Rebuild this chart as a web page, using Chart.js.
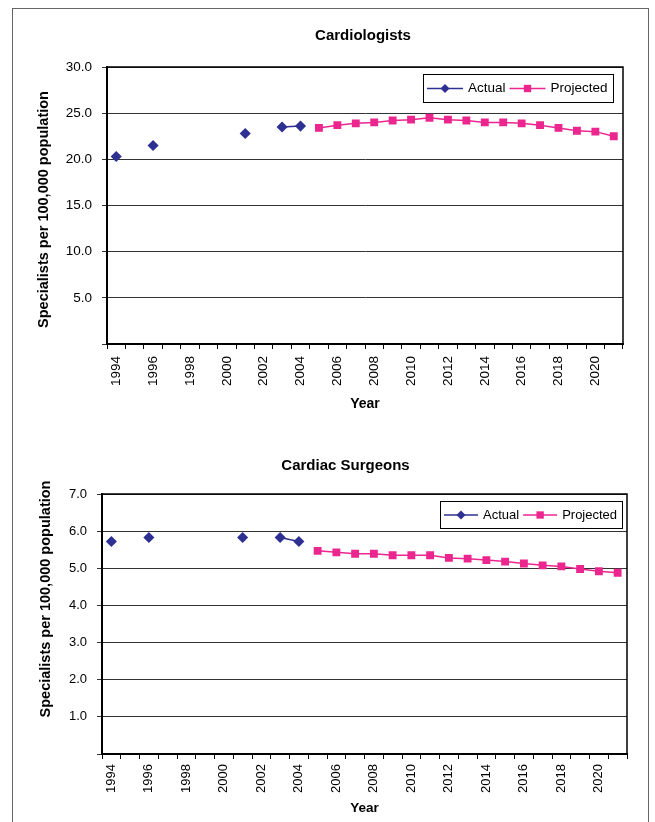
<!DOCTYPE html>
<html>
<head>
<meta charset="utf-8">
<title>Cardiologists and Cardiac Surgeons</title>
<script src="https://cdn.jsdelivr.net/npm/chart.js@4/dist/chart.umd.min.js"></script>
<style>
  body { margin: 0; background: #fff; }
  #frame { position: absolute; left: 12px; top: 8px; width: 637px; height: 900px; box-sizing: border-box; border: 1px solid #666; }
  canvas { position: absolute; left: 13px; }
  #cardio { top: 9px; }
  #surgeons { top: 425px; }
</style>
</head>
<body>
<div id="frame"></div>
<canvas id="cardio" width="634" height="411"></canvas>
<canvas id="surgeons" width="634" height="397"></canvas>
<script>
const years = ['1994', '1995', '1996', '1997', '1998', '1999', '2000', '2001', '2002', '2003',
  '2004', '2005', '2006', '2007', '2008', '2009', '2010', '2011', '2012', '2013',
  '2014', '2015', '2016', '2017', '2018', '2019', '2020', '2021'];

const cardioActual = [20.3, null, 21.5, null, null, null, null, 22.8, null, 23.5,
  23.6, null, null, null, null, null, null, null, null, null,
  null, null, null, null, null, null, null, null];
const cardioProjected = [null, null, null, null, null, null, null, null, null, null,
  null, 23.4, 23.7, 23.9, 24.0, 24.2, 24.3, 24.5, 24.3, 24.2,
  24.0, 24.0, 23.9, 23.7, 23.4, 23.1, 23.0, 22.5];

const surgeonActual = [5.72, null, 5.83, null, null, null, null, 5.83, null, 5.83,
  5.72, null, null, null, null, null, null, null, null, null,
  null, null, null, null, null, null, null, null];
const surgeonProjected = [null, null, null, null, null, null, null, null, null, null,
  null, 5.47, 5.43, 5.39, 5.39, 5.35, 5.35, 5.35, 5.28, 5.26,
  5.22, 5.18, 5.13, 5.08, 5.05, 4.98, 4.92, 4.88];

const seriesNames = ['Actual', 'Projected'];
const yAxisTitle = 'Specialists per 100,000 population';
const xAxisTitle = 'Year';

const BLUE = '#2E3192';
const PINK = '#EC268F';
const FONT = '"Liberation Sans", Arial, sans-serif';

// legend box drawn inside the plot, top right (like the Excel original)
function drawMarker(ctx, style, x, y, r, color) {
  ctx.fillStyle = color;
  ctx.beginPath();
  if (style === 'rectRot') {
    ctx.moveTo(x, y - r); ctx.lineTo(x + r, y); ctx.lineTo(x, y + r); ctx.lineTo(x - r, y);
  } else {
    const s = r * Math.SQRT1_2 + 0.5;
    ctx.rect(x - s, y - s, 2 * s, 2 * s);
  }
  ctx.closePath();
  ctx.fill();
}

const boxLegend = {
  id: 'boxLegend',
  afterDatasetsDraw(chart, args, opts) {
    const ctx = chart.ctx, area = chart.chartArea;
    const lineW = opts.lineW;
    ctx.save();
    ctx.font = opts.size + 'px ' + FONT;
    let w = 5;
    chart.data.datasets.forEach(ds => { w += lineW + 5 + ctx.measureText(ds.label).width + 4; });
    w = Math.round(w);
    const x0 = Math.round(area.right - opts.right - w), y0 = Math.round(area.top + opts.top);
    ctx.fillStyle = '#fff';
    ctx.fillRect(x0, y0, w, opts.height);
    ctx.strokeStyle = '#000';
    ctx.lineWidth = 1;
    ctx.strokeRect(x0 + 0.5, y0 + 0.5, w, opts.height);
    let x = x0 + 4;
    const cy = y0 + opts.height / 2 + 0.5;
    chart.data.datasets.forEach(ds => {
      ctx.strokeStyle = ds.borderColor;
      ctx.lineWidth = ds.borderWidth;
      ctx.beginPath();
      ctx.moveTo(x, cy);
      ctx.lineTo(x + lineW, cy);
      ctx.stroke();
      drawMarker(ctx, ds.pointStyle, x + lineW / 2, cy, ds.pointRadius, ds.borderColor);
      x += lineW + 5;
      ctx.fillStyle = '#000';
      ctx.textBaseline = 'middle';
      ctx.textAlign = 'left';
      ctx.fillText(ds.label, x, cy);
      x += ctx.measureText(ds.label).width + 4;
    });
    ctx.restore();
  }
};

// black frame round the plot area
const plotFrame = {
  id: 'plotFrame',
  beforeDatasetsDraw(chart) {
    const a = chart.chartArea, ctx = chart.ctx;
    ctx.save();
    ctx.strokeStyle = '#000';
    ctx.lineWidth = 1.5;
    ctx.strokeRect(a.left, a.top, a.right - a.left, a.bottom - a.top);
    ctx.restore();
  }
};

// small shifts of the chart title and y title, Excel does not centre them on the plot
const nudge = {
  id: 'nudge',
  afterLayout(chart, args, opts) {
    const tb = chart.titleBlock;
    if (tb) { tb.left += opts.titleX; tb.right += opts.titleX; }
    const y = chart.scales.y;
    if (!y._nudged) {
      const orig = y.drawTitle;
      y.drawTitle = function () {
        this.ctx.save();
        this.ctx.translate(0, opts.yTitle);
        orig.call(this);
        this.ctx.restore();
      };
      y._nudged = true;
    }
  }
};

function buildChart(id, title, actual, projected, s) {
  const ctx = document.getElementById(id).getContext('2d');
  return new Chart(ctx, {
    type: 'line',
    data: {
      labels: years,
      datasets: [{
        label: seriesNames[0],
        data: actual,
        borderColor: BLUE,
        backgroundColor: BLUE,
        pointBackgroundColor: BLUE,
        pointBorderColor: BLUE,
        pointStyle: 'rectRot',
        pointRadius: 4.5,
        borderWidth: 1.5,
        spanGaps: false
      }, {
        label: seriesNames[1],
        data: projected,
        borderColor: PINK,
        backgroundColor: PINK,
        pointBackgroundColor: PINK,
        pointBorderColor: PINK,
        pointStyle: 'rect',
        pointRadius: 4.5,
        borderWidth: 1.5,
        spanGaps: false
      }]
    },
    options: {
      responsive: false,
      animation: false,
      layout: { padding: { left: 0, right: s.padRight, top: 0, bottom: 0 } },
      plugins: {
        legend: { display: false },
        tooltip: { enabled: false },
        title: {
          display: true,
          text: title,
          fullSize: false,
          color: '#000',
          font: { family: FONT, size: s.titleSize, weight: 'bold', lineHeight: 1.2 },
          padding: { top: s.titleTop, bottom: s.titleBottom }
        },
        boxLegend: { size: s.legendSize, right: s.legendRight, top: 7, height: s.legendHeight, lineW: s.legendLine },
        nudge: { titleX: s.titleShift, yTitle: s.yTitleShift }
      },
      scales: {
        x: {
          type: 'category',
          offset: true,
          afterFit: scale => { scale.height = s.xHeight; },
          grid: { offset: true, drawOnChartArea: false, drawTicks: true, tickLength: 5, color: '#000' },
          border: { display: true, color: '#000', width: 2 },
          ticks: {
            autoSkip: false,
            minRotation: 90,
            maxRotation: 90,
            padding: s.xPad,
            color: '#000',
            font: { family: FONT, size: s.tickSize },
            callback: (v, i) => (i % 2 === 0 ? years[i] : '')
          },
          title: {
            display: true,
            text: xAxisTitle,
            color: '#000',
            font: { family: FONT, size: s.axisTitleSize, weight: 'bold', lineHeight: 1.2 },
            padding: { top: 0, bottom: s.xTitleBottom }
          }
        },
        y: {
          min: 0,
          max: s.max,
          afterFit: scale => { scale.width = s.yWidth; },
          grid: { color: '#333', lineWidth: 1, drawTicks: true, tickLength: 5 },
          border: { display: true, color: '#000', width: 2 },
          ticks: {
            stepSize: s.step,
            padding: 10,
            color: '#000',
            font: { family: FONT, size: s.tickSize },
            callback: v => (v === 0 ? '' : v.toFixed(1))
          },
          title: {
            display: true,
            text: yAxisTitle,
            color: '#000',
            font: { family: FONT, size: s.yTitleSize, weight: 'bold', lineHeight: 1.2 },
            padding: { top: s.yTitleLeft, bottom: 0 }
          }
        }
      }
    },
    plugins: [plotFrame, boxLegend, nudge]
  });
}

buildChart('cardio', 'Cardiologists', cardioActual, cardioProjected, {
  max: 30, step: 5,
  padRight: 24, yWidth: 94, xHeight: 76,
  titleSize: 15, titleTop: 18, titleBottom: 22, titleShift: -2,
  tickSize: 13.5, xPad: 7, axisTitleSize: 14, xTitleBottom: 7.6,
  yTitleSize: 14.5, yTitleLeft: 22, yTitleShift: 4,
  legendSize: 13.5, legendRight: 10, legendHeight: 28, legendLine: 36
});

buildChart('surgeons', 'Cardiac Surgeons', surgeonActual, surgeonProjected, {
  max: 7, step: 1,
  padRight: 20, yWidth: 89, xHeight: 68,
  titleSize: 15, titleTop: 31.5, titleBottom: 19.5, titleShift: -19,
  tickSize: 13, xPad: 5, axisTitleSize: 13.5, xTitleBottom: 5.6,
  yTitleSize: 14.5, yTitleLeft: 24, yTitleShift: -25,
  legendSize: 13, legendRight: 5, legendHeight: 27, legendLine: 34
});
</script>
</body>
</html>
